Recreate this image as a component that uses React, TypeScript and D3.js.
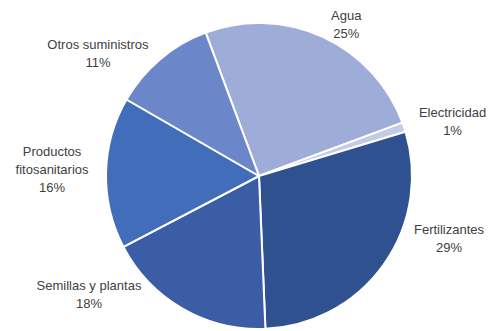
import React, { useMemo } from 'react';
import * as d3 from 'd3';

// slice data, clockwise from the first slice
const categories = ['Agua', 'Electricidad', 'Fertilizantes', 'Semillas y plantas', 'Productos fitosanitarios', 'Otros suministros'];
const values = [25, 1, 29, 18, 16, 11];
const labelLines = [['Agua'], ['Electricidad'], ['Fertilizantes'], ['Semillas y plantas'], ['Productos', 'fitosanitarios'], ['Otros suministros']];
const colors = ['#9eacd8', '#c3cbe6', '#2f5190', '#3a5da5', '#416dba', '#6c87c9'];

// label nudges from the outer label arc (excel "best fit" placement)
const labelNudge: [number, number][] = [[4, 30], [4, 9], [27, -53], [-70, -55], [-7, -2], [-32, 30]];

const W = 489;
const H = 331;
const cx = 259;
const cy = 176;
const radius = 153;
const startDeg = -20.4;

const App: React.FC = () => {
  const total = d3.sum(values);

  const arcs = useMemo(() => {
    const pie = d3.pie<number>()
      .sort(null)
      .value(d => d)
      .startAngle((startDeg * Math.PI) / 180)
      .endAngle((startDeg * Math.PI) / 180 + Math.PI * 2);
    return pie(values);
  }, []);

  const arc = d3.arc<d3.PieArcDatum<number>>().innerRadius(0).outerRadius(radius);
  const labelArc = d3.arc<d3.PieArcDatum<number>>().innerRadius(200).outerRadius(200);
  const fmt = d3.format('.0%');

  return (
    <svg width={W} height={H} style={{ position: 'absolute', left: 0, top: 0, background: '#fff' }}>
      <g transform={`translate(${cx},${cy})`}>
        {arcs.map((a, i) => (
          <path key={categories[i]} d={arc(a) || ''} fill={colors[i]} stroke="#fff" strokeWidth={2} strokeLinejoin="round" />
        ))}
        {arcs.map((a, i) => {
          const [lx, ly] = labelArc.centroid(a);
          const x = lx + labelNudge[i][0];
          const y = ly + labelNudge[i][1];
          const lines = [...labelLines[i], fmt(values[i] / total)];
          return (
            <text key={'l' + i} textAnchor="middle" fontFamily="'Liberation Sans', Arial, sans-serif" fontSize={13} fill="#404040">
              {lines.map((t, j) => (
                <tspan key={j} x={x} y={y + (j - (lines.length - 1) / 2) * 18} dominantBaseline="central">{t}</tspan>
              ))}
            </text>
          );
        })}
      </g>
    </svg>
  );
};

export default App;
